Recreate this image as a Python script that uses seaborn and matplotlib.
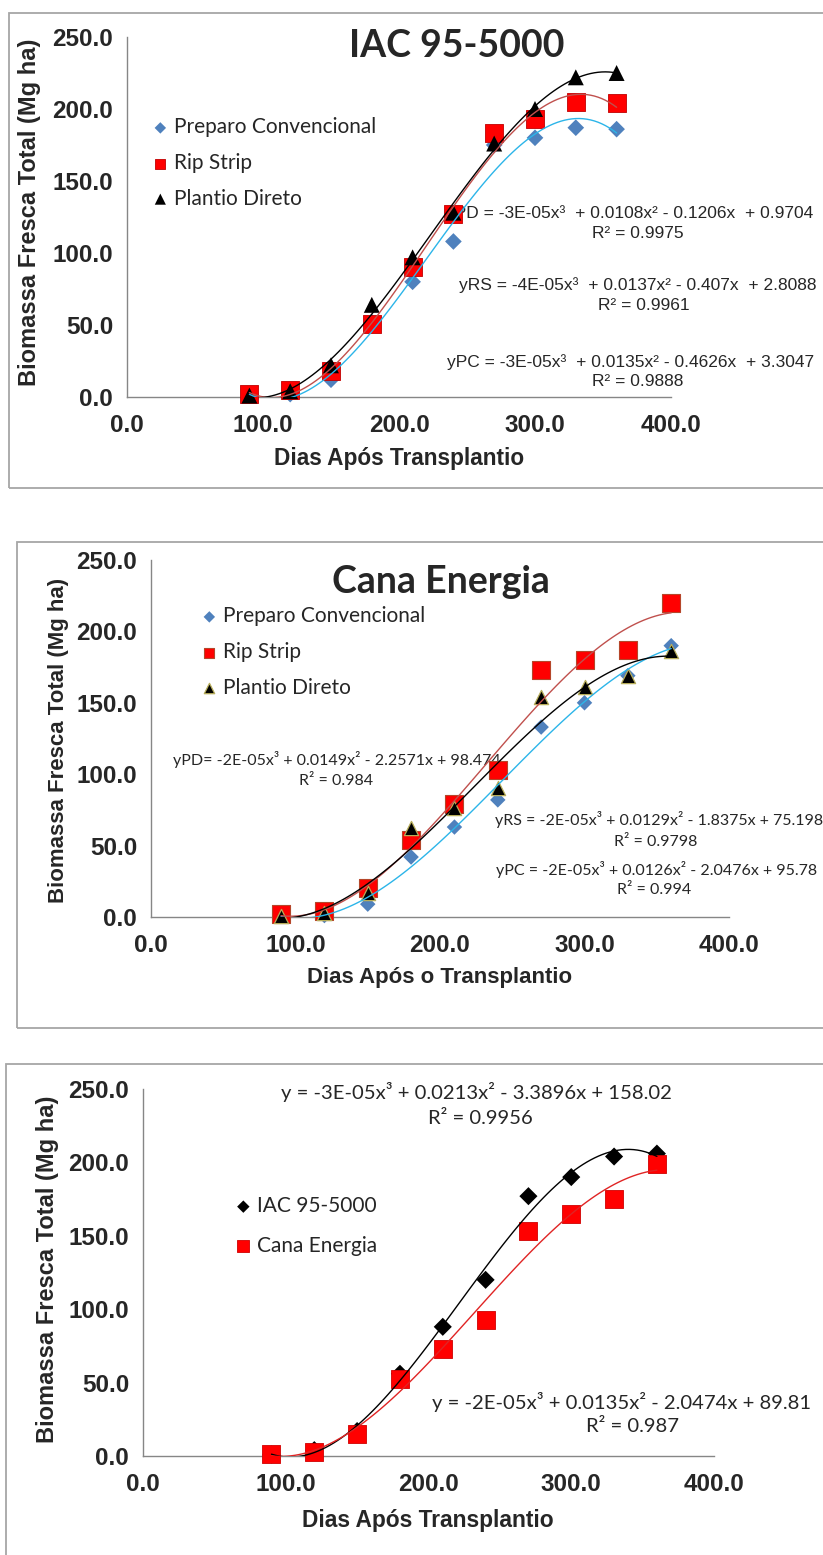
import matplotlib
matplotlib.use("Agg")
import matplotlib.pyplot as plt
from matplotlib.patches import Rectangle
import seaborn as sns

# ---------------------------------------------------------------- data
days = [90, 120, 150, 180, 210, 240, 270, 300, 330, 360]

# IAC 95-5000: fresh biomass (Mg/ha) per soil preparation system
iac_pc = [1, 2, 12, 52, 80, 108, 175, 180, 187, 186]
iac_rs = [2, 5, 18, 51, 90, 127, 183, 193, 205, 204]
iac_pd = [1, 4, 22, 64, 97, 128, 176, 200, 222, 225]

# Cana Energia: fresh biomass (Mg/ha) per soil preparation system
ce_pc = [1, 1, 9, 42, 63, 82, 133, 150, 169, 190]
ce_rs = [2, 4, 20, 54, 79, 103, 173, 180, 187, 220]
ce_pd = [1, 3, 17, 62, 76, 90, 154, 161, 169, 186]

# variety means over the three systems
mean_iac = [1, 4, 17, 56, 88, 120, 177, 190, 204, 206]
mean_ce = [1.4, 2.5, 15, 52.5, 73, 92.5, 153.5, 165, 175, 199]

system_names = ["Preparo Convencional", "Rip Strip", "Plantio Direto"]
variety_names = ["IAC 95-5000", "Cana Energia"]

x_ticks = [0, 100, 200, 300, 400]
x_tick_labels = ["0.0", "100.0", "200.0", "300.0", "400.0"]
y_ticks = [0, 50, 100, 150, 200, 250]
y_tick_labels = ["0.0", "50.0", "100.0", "150.0", "200.0", "250.0"]

y_label = "Biomassa Fresca Total (Mg ha)"
x_label_1 = "Dias Após Transplantio"
x_label_2 = "Dias Após o Transplantio"

eq_iac = [
    ("yPD = -3E-05x³  + 0.0108x² - 0.1206x  + 0.9704", "R² = 0.9975"),
    ("yRS = -4E-05x³  + 0.0137x² - 0.407x  + 2.8088", "R² = 0.9961"),
    ("yPC = -3E-05x³  + 0.0135x² - 0.4626x  + 3.3047", "R² = 0.9888"),
]
eq_ce = [
    ("yPD= -2E-05x³ + 0.0149x² - 2.2571x + 98.474", "R² = 0.984"),
    ("yRS = -2E-05x³ + 0.0129x² - 1.8375x + 75.198", "R² = 0.9798"),
    ("yPC = -2E-05x³ + 0.0126x² - 2.0476x + 95.78", "R² = 0.994"),
]
eq_mean = [
    ("y = -3E-05x³ + 0.0213x² - 3.3896x + 158.02", "R² = 0.9956"),
    ("y = -2E-05x³ + 0.0135x² - 2.0474x + 89.81", "R² = 0.987"),
]

# ---------------------------------------------------------------- style
W, H = 823, 1555
GREY = "#868686"
FRAME = "#a6a6a6"
BLUE = "#4f81bd"
RED = "#ff0000"
PC_LINE = "#2cb5e9"
RS_LINE = "#c0504d"
CALIBRI_LIKE = ["Lato", "DejaVu Sans"]

sns.set_style("white")
plt.rcParams["font.family"] = ["Liberation Sans", "DejaVu Sans"]

fig = plt.figure(figsize=(W / 100, H / 100), dpi=100)


def fx(x):
    return x / W


def fy(y):
    return 1 - y / H


def frame(left, top, bottom):
    fig.add_artist(Rectangle((fx(left), fy(bottom)), (840 - left) / W, (bottom - top) / H,
                             transform=fig.transFigure, fill=False,
                             edgecolor=FRAME, linewidth=1.3))


def new_axes(x0, x400, y0, y250):
    return fig.add_axes([fx(x0), fy(y0), (x400 - x0) / W, (y0 - y250) / H])


def style_axes(ax):
    ax.set_xlim(0, 400)
    ax.set_ylim(0, 250)
    sns.despine(ax=ax)
    for side in ("left", "bottom"):
        ax.spines[side].set_color(GREY)
        ax.spines[side].set_linewidth(1.0)
    ax.set_xticks(x_ticks)
    ax.set_xticklabels(x_tick_labels, fontsize=17.5, fontweight="bold")
    ax.set_yticks(y_ticks)
    ax.set_yticklabels(y_tick_labels, fontsize=17.5, fontweight="bold")
    ax.tick_params(axis="x", direction="out", length=5, width=1, color=GREY, pad=7)
    ax.tick_params(axis="y", direction="out", length=4, width=1, color=GREY, pad=6)
    ax.set_xlabel("")
    ax.set_ylabel("")
    ax.patch.set_alpha(0)


def put(ax, x, y, s, **kw):
    kw.setdefault("zorder", 2)
    ax.text(fx(x), fy(y), s, transform=fig.transFigure, clip_on=False, **kw)


def points(ax, y, marker, size, color, name, edge="none", lw=0):
    sns.scatterplot(x=days, y=y, marker=marker, s=size, color=color, edgecolor=edge,
                    linewidth=lw, label=name, legend=False, zorder=4, clip_on=False, ax=ax)


def trend(ax, y, color):
    sns.regplot(x=days, y=y, order=3, scatter=False, ci=None, truncate=True,
                color=color, line_kws=dict(linewidth=1.0, zorder=5), ax=ax)


def legend(ax, marker_x, row_center, spacing, size, key_sizes):
    handles, labels = ax.get_legend_handles_labels()
    leg = ax.legend(handles, labels, loc="center left",
                    bbox_to_anchor=(fx(marker_x - 8), fy(row_center)),
                    bbox_transform=fig.transFigure, frameon=False, borderpad=0,
                    borderaxespad=0, handlelength=0.8, handletextpad=0.25,
                    labelspacing=spacing,
                    prop=dict(family=CALIBRI_LIKE, size=size))
    for handle, s in zip(leg.legend_handles, key_sizes):
        handle.set_sizes([s])


# ---------------------------------------------------------------- panel 1: IAC 95-5000
frame(9, 13, 488)
ax1 = new_axes(127, 671, 397, 37)
points(ax1, iac_pc, "D", 72, BLUE, system_names[0])
points(ax1, iac_rs, "s", 150, RED, system_names[1], edge="#c00000", lw=0.6)
points(ax1, iac_pd, "^", 132, "black", system_names[2])
trend(ax1, iac_pc, PC_LINE)
trend(ax1, iac_rs, RS_LINE)
trend(ax1, iac_pd, "black")
style_axes(ax1)
legend(ax1, 160, 163, 0.75, 15, [34, 56, 64])
put(ax1, 457, 46, variety_names[0], family=CALIBRI_LIKE, fontsize=27,
    fontweight="bold", ha="center", va="center")
for (eq, r2), (xl, ye, xc, yr) in zip(eq_iac, [(446, 213, 638, 233),
                                             (459, 285, 644, 306),
                                             (447, 362, 638, 382)]):
    put(ax1, xl, ye, eq, fontsize=12.5, ha="left", va="center")
    put(ax1, xc, yr, r2, fontsize=12.5, ha="center", va="center")
put(ax1, 30, 212, y_label, fontsize=17, fontweight="bold", rotation=90,
    ha="center", va="center")
put(ax1, 399, 458, x_label_1, fontsize=16.3, fontweight="bold", ha="center", va="center")

# ---------------------------------------------------------------- panel 2: Cana Energia
frame(17, 542, 1028)
ax2 = new_axes(151, 729, 917, 560)
points(ax2, ce_pc, "D", 62, BLUE, system_names[0])
points(ax2, ce_rs, "s", 150, RED, system_names[1], edge="#b5462a", lw=0.8)
points(ax2, ce_pd, "^", 105, "black", system_names[2], edge="#b7ad5a", lw=0.9)
trend(ax2, ce_pc, PC_LINE)
trend(ax2, ce_rs, RS_LINE)
trend(ax2, ce_pd, "black")
style_axes(ax2)
legend(ax2, 209, 652, 0.75, 15, [34, 60, 56])
put(ax2, 441, 582, variety_names[1], family=CALIBRI_LIKE, fontsize=27,
    fontweight="bold", ha="center", va="center")
for (eq, r2), (xl, ye, xc, yr) in zip(eq_ce, [(173, 760, 336, 781),
                                            (495, 820, 656, 842),
                                            (496, 870, 654, 890)]):
    put(ax2, xl, ye, eq, family=CALIBRI_LIKE, fontsize=11.5, ha="left", va="center")
    put(ax2, xc, yr, r2, family=CALIBRI_LIKE, fontsize=11.5, ha="center", va="center")
put(ax2, 59, 740, y_label, fontsize=16, fontweight="bold", rotation=90,
    ha="center", va="center")
put(ax2, 440, 978, x_label_2, fontsize=16, fontweight="bold", ha="center", va="center")

# ---------------------------------------------------------------- panel 3: variety means
frame(6, 1064, 1580)
ax3 = new_axes(143, 714, 1456, 1089)
points(ax3, mean_iac, "D", 85, "black", variety_names[0])
points(ax3, mean_ce, "s", 165, RED, variety_names[1], edge="#d00000", lw=0.6)
trend(ax3, mean_iac, "black")
trend(ax3, mean_ce, "#e02424")
style_axes(ax3)
legend(ax3, 243, 1226, 0.95, 15, [40, 80])
for (eq, r2), (xl, ye, xc, yr) in zip(eq_mean, [(281, 1092, 480, 1119),
                                              (432, 1402, 633, 1427)]):
    put(ax3, xl, ye, eq, family=CALIBRI_LIKE, fontsize=14.6, ha="left", va="center")
    put(ax3, xc, yr, r2, family=CALIBRI_LIKE, fontsize=14.6, ha="center", va="center")
put(ax3, 48, 1269, y_label, fontsize=17, fontweight="bold", rotation=90,
    ha="center", va="center")
put(ax3, 428, 1520, x_label_1, fontsize=16.4, fontweight="bold", ha="center", va="center")

fig.savefig("out.png", dpi=100)
